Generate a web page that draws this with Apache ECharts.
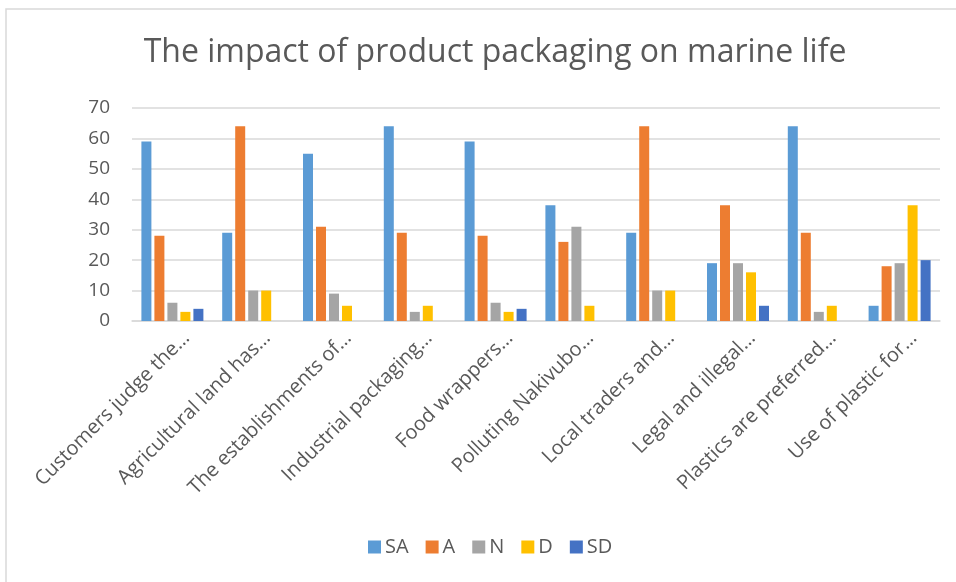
<!DOCTYPE html>
<html>
<head>
<meta charset="utf-8">
<script src="https://cdn.jsdelivr.net/npm/echarts@6/dist/echarts.min.js"></script>
<style>
  html, body { margin: 0; padding: 0; background: #fff; }
  #chart { width: 956px; height: 582px; }
</style>
</head>
<body>
<div id="chart"></div>
<script>
// survey statements (truncated as in the source chart)
var categories = [
    'Customers judge the…',
    'Agricultural land has…',
    'The establishments of…',
    'Industrial packaging…',
    'Food wrappers…',
    'Polluting Nakivubo…',
    'Local traders and…',
    'Legal and illegal…',
    'Plastics are preferred…',
    'Use of plastic for…'
];

// responses per statement
var saValues = [59, 29, 55, 64, 59, 38, 29, 19, 64, 5];
var aValues  = [28, 64, 31, 29, 28, 26, 64, 38, 29, 18];
var nValues  = [6, 10, 9, 3, 6, 31, 10, 19, 3, 19];
var dValues  = [3, 10, 5, 5, 3, 5, 10, 16, 5, 38];
var sdValues = [4, 0, 0, 0, 4, 0, 0, 5, 0, 20];

var yTicks = [0, 10, 20, 30, 40, 50, 60, 70];

var seriesNames = ['SA', 'A', 'N', 'D', 'SD'];
var seriesColors = ['#5B9BD5', '#ED7D31', '#A5A5A5', '#FFC000', '#4472C4'];
var seriesValues = [saValues, aValues, nValues, dValues, sdValues];

var FONT = '"Open Sans", Lato, sans-serif';
var TEXT_COLOR = '#595959';

var chartDom = document.getElementById('chart');
var myChart = echarts.init(chartDom);

var series = seriesNames.map(function (name, i) {
    return {
        name: name,
        type: 'bar',
        data: seriesValues[i],
        barWidth: 10,
        barGap: '30%',
        itemStyle: { color: seriesColors[i] }
    };
});

var option = {
    backgroundColor: '#fff',
    animation: false,
    textStyle: { fontFamily: FONT },
    graphic: [{
        type: 'rect',
        shape: { x: 6, y: 9, width: 1000, height: 1000 },
        style: { fill: 'none', stroke: '#d9d9d9', lineWidth: 1.5 },
        silent: true
    }],
    title: {
        text: 'The impact of product packaging on marine life',
        left: 490,
        textAlign: 'center',
        top: 32,
        textStyle: { fontFamily: FONT, fontSize: 32, fontWeight: 'normal', color: TEXT_COLOR }
    },
    legend: {
        data: seriesNames,
        bottom: 20,
        left: 363,
        itemWidth: 13,
        itemHeight: 13,
        itemGap: 17,
        icon: 'rect',
        textStyle: { fontFamily: FONT, fontSize: 20, color: TEXT_COLOR, padding: [0, 0, 0, -1] }
    },
    grid: {
        left: 132,
        right: 16,
        top: 108,
        bottom: 261
    },
    xAxis: {
        type: 'category',
        data: categories,
        axisLine: { lineStyle: { color: '#d9d9d9', width: 1.5 } },
        axisTick: { show: false },
        axisLabel: {
            rotate: 45,
            interval: 0,
            margin: 28,
            padding: [0, -20, 0, 0],
            fontFamily: FONT,
            fontSize: 20,
            color: TEXT_COLOR
        }
    },
    yAxis: {
        type: 'value',
        min: yTicks[0],
        max: yTicks[yTicks.length - 1],
        interval: 10,
        axisLine: { show: false },
        axisTick: { show: false },
        splitLine: { lineStyle: { color: '#d9d9d9', width: 1.5 } },
        axisLabel: {
            margin: 22,
            fontFamily: FONT,
            fontSize: 19,
            color: TEXT_COLOR
        }
    },
    series: series
};

myChart.setOption(option);
</script>
</body>
</html>
